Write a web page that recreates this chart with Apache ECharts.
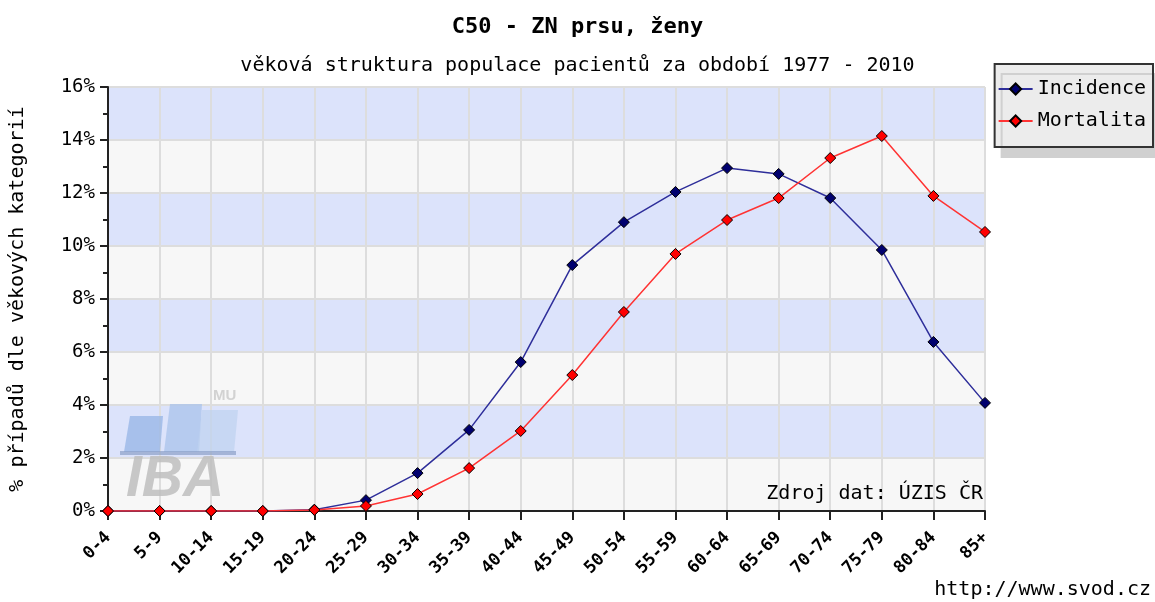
<!DOCTYPE html>
<html>
<head>
<meta charset="utf-8">
<script src="https://cdn.jsdelivr.net/npm/echarts@6/dist/echarts.min.js"></script>
<style>
  html, body { margin: 0; padding: 0; background: #fff; }
  #chart { width: 1155px; height: 602px; }
</style>
</head>
<body>
<div id="chart"></div>
<script>
// data
const ageGroups = ['0-4', '5-9', '10-14', '15-19', '20-24', '25-29', '30-34', '35-39', '40-44',
  '45-49', '50-54', '55-59', '60-64', '65-69', '70-74', '75-79', '80-84', '85+']
const incidence = [0, 0, 0, 0, 0.05, 0.41, 1.43, 3.06, 5.62, 9.28, 10.9, 12.04, 12.94, 12.72, 11.81, 9.85, 6.38, 4.08]
const mortalita = [0, 0, 0, 0, 0.04, 0.19, 0.64, 1.62, 3.02, 5.13, 7.51, 9.7, 10.98, 11.81, 13.32, 14.15, 11.89, 10.53]

const font = '"DejaVu Sans Mono", monospace'

const chart = echarts.init(document.getElementById('chart'))

const option = {
  animation: false,
  backgroundColor: '#fff',
  title: [
    {
      text: 'C50 - ZN prsu, ženy',
      left: 'center',
      top: 11,
      textStyle: { fontFamily: font, fontSize: 22, fontWeight: 'bold', color: '#000' },
    },
    {
      text: 'věková struktura populace pacientů za období 1977 - 2010',
      left: 'center',
      top: 51,
      textStyle: { fontFamily: font, fontSize: 20, fontWeight: 'normal', color: '#000' },
    },
  ],
  legend: {
    right: 2,
    top: 64,
    orient: 'vertical',
    itemWidth: 34,
    itemHeight: 14,
    itemGap: 12,
    padding: [15, 7, 16, 3],
    backgroundColor: '#ececec',
    borderColor: '#333',
    borderWidth: 2,
    borderRadius: 0,
    shadowColor: '#d0d0d0',
    shadowOffsetX: 7,
    shadowOffsetY: 10,
    shadowBlur: 0,
    textStyle: { fontFamily: font, fontSize: 20, color: '#000' },
  },
  grid: { left: 104, right: 170, top: 87, bottom: 91 },
  xAxis: {
    type: 'category',
    data: ageGroups,
    boundaryGap: false,
    axisLine: { lineStyle: { color: '#222', width: 2 } },
    axisTick: { show: true, length: 9, lineStyle: { color: '#222', width: 2 } },
    axisLabel: {
      rotate: 45,
      interval: 0,
      margin: 24,
      fontFamily: font,
      fontSize: 17,
      fontWeight: 'bold',
      color: '#000',
    },
    splitLine: { show: true, lineStyle: { color: '#dddddd', width: 2 } },
  },
  yAxis: {
    type: 'value',
    min: 0,
    max: 16,
    interval: 2,
    name: '% případů dle věkových kategorií',
    nameLocation: 'middle',
    nameGap: 80,
    nameTextStyle: { fontFamily: font, fontSize: 20, color: '#000' },
    axisLine: { show: true, lineStyle: { color: '#222', width: 2 } },
    axisTick: { show: true, length: 8, lineStyle: { color: '#222', width: 2 } },
    minorTick: { show: true, splitNumber: 2, length: 5, lineStyle: { color: '#222', width: 2 } },
    axisLabel: {
      formatter: '{value}%',
      margin: 13,
      fontFamily: font,
      fontSize: 19,
      color: '#000',
    },
    splitLine: { show: true, lineStyle: { color: '#dddddd', width: 2 } },
    splitArea: { show: true, areaStyle: { color: ['#f7f7f7', '#dce3fb'] } },
  },
  graphic: [
    // IBA MU watermark
    { type: 'polygon', z: 1, shape: { points: [[130, 416], [163, 416], [160, 452], [124, 452]] }, style: { fill: 'rgba(150,180,230,0.75)' } },
    { type: 'polygon', z: 1, shape: { points: [[170, 404], [202, 404], [199, 452], [164, 452]] }, style: { fill: 'rgba(170,195,235,0.75)' } },
    { type: 'polygon', z: 1, shape: { points: [[202, 410], [238, 410], [234, 452], [197, 452]] }, style: { fill: 'rgba(190,210,240,0.7)' } },
    { type: 'rect', z: 1, shape: { x: 120, y: 451, width: 116, height: 4 }, style: { fill: 'rgba(140,160,200,0.7)' } },
    {
      type: 'text', z: 1, left: 213, top: 388,
      style: { text: 'MU', font: 'bold 15px Arial, sans-serif', fill: '#d2d2d2' },
    },
    {
      type: 'text', z: 1, left: 126, top: 452,
      style: { text: 'IBA', font: 'italic bold 57px Arial, sans-serif', fill: 'rgba(190,190,190,0.85)' },
    },
    {
      type: 'text', z: 5, right: 172, top: 484,
      style: { text: 'Zdroj dat: ÚZIS ČR', font: '20px "DejaVu Sans Mono", monospace', fill: '#000' },
    },
    {
      type: 'text', z: 5, right: 4, top: 580,
      style: { text: 'http://www.svod.cz', font: '20px "DejaVu Sans Mono", monospace', fill: '#000' },
    },
  ],
  series: [
    {
      name: 'Incidence',
      type: 'line',
      data: incidence,
      z: 3,
      symbol: 'diamond',
      symbolSize: 11,
      lineStyle: { color: '#2e2e9a', width: 1.5 },
      itemStyle: { color: '#00006e', borderColor: '#000', borderWidth: 1 },
    },
    {
      name: 'Mortalita',
      type: 'line',
      data: mortalita,
      z: 4,
      symbol: 'diamond',
      symbolSize: 11,
      lineStyle: { color: '#ff3333', width: 1.5 },
      itemStyle: { color: '#ff0000', borderColor: '#000', borderWidth: 1 },
    },
  ],
}

chart.setOption(option)
</script>
</body>
</html>
